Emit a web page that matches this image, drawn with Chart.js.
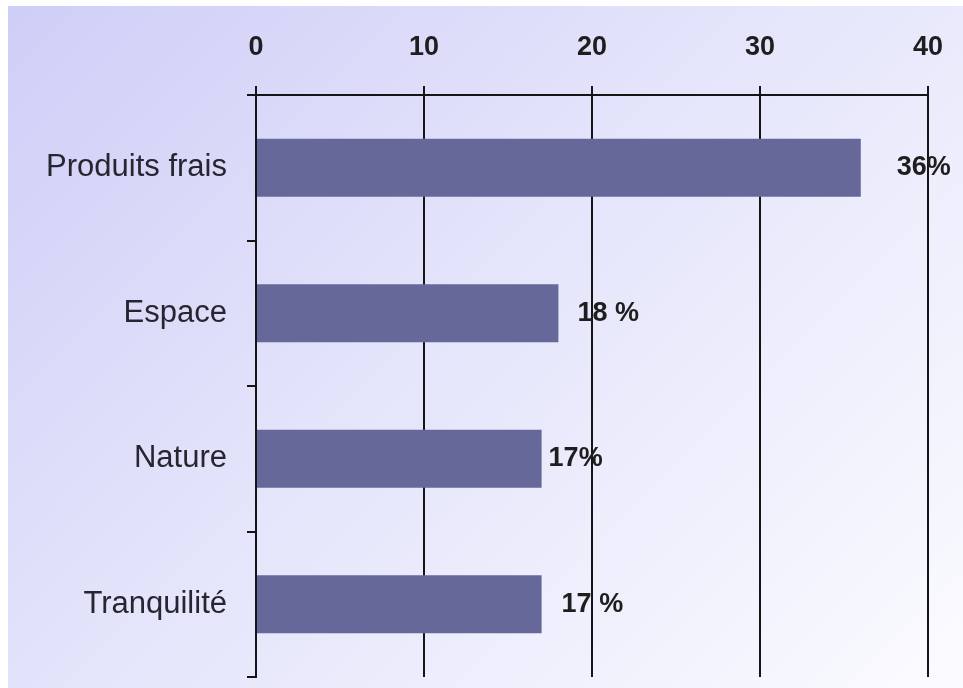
<!DOCTYPE html>
<html>
<head>
<meta charset="utf-8">
<script src="https://cdn.jsdelivr.net/npm/chart.js@4/dist/chart.umd.min.js"></script>
<style>
  html, body { margin: 0; padding: 0; background: #fff; }
  #wrap { position: relative; width: 963px; height: 688px; overflow: hidden; background: #fff; }
  #bg { position: absolute; left: 8px; top: 6px; right: 0; bottom: 0;
        background: linear-gradient(135deg, #cfcef7 0%, #e4e4fb 45%, #fbfbff 100%); }
  #c { position: absolute; left: 0; top: 0; }
</style>
</head>
<body>
<div id="wrap">
  <div id="bg"></div>
  <canvas id="c" width="963" height="688"></canvas>
</div>
<script>
/* categories and values */
const categories = ['Produits frais', 'Espace', 'Nature', 'Tranquilité'];
const values = [36, 18, 17, 17];
const valueLabels = ['36%', '18 %', '17%', '17 %'];
const xTicks = [0, 10, 20, 30, 40];

/* gap between bar end and its label, as in the original slide */
const labelGap = [36, 19, 7, 20];

const INK = '#151515';
const FONT = '"Liberation Sans", Arial, sans-serif';

const valueText = {
  id: 'valueText',
  afterDatasetsDraw(chart) {
    const ctx = chart.ctx;
    const meta = chart.getDatasetMeta(0);
    ctx.save();
    ctx.font = 'bold 27px ' + FONT;
    ctx.fillStyle = '#1e1e1e';
    ctx.textAlign = 'left';
    ctx.textBaseline = 'middle';
    meta.data.forEach((bar, i) => {
      ctx.fillText(valueLabels[i], bar.x + labelGap[i], bar.y);
    });
    ctx.restore();
  }
};

new Chart(document.getElementById('c'), {
  type: 'bar',
  data: {
    labels: categories,
    datasets: [{
      data: values,
      backgroundColor: '#67689a',
      borderWidth: 0,
      barPercentage: 0.4,
      categoryPercentage: 1
    }]
  },
  options: {
    indexAxis: 'y',
    responsive: false,
    animation: false,
    layout: { padding: { left: 0, right: 35, top: 0, bottom: 11 } },
    plugins: { legend: { display: false }, tooltip: { enabled: false } },
    scales: {
      x: {
        position: 'top',
        min: xTicks[0],
        max: xTicks[xTicks.length - 1],
        // fixed band above the plot; label overhang must not shrink the plot
        afterFit: s => { s.height = 95; s.paddingLeft = 0; s.paddingRight = 0; },
        afterBuildTicks: s => { s.ticks = xTicks.map(v => ({ value: v })); },
        ticks: { font: { family: FONT, size: 27, weight: 'bold' }, color: '#1e1e1e', padding: 22 },
        grid: { color: INK, lineWidth: 2, tickLength: 9, drawOnChartArea: true },
        border: { display: true, color: INK, width: 2 }
      },
      y: {
        afterFit: s => { s.width = 256; s.paddingTop = 0; s.paddingBottom = 0; },
        ticks: { font: { family: FONT, size: 31 }, color: '#262630', padding: 20 },
        grid: { offset: true, drawOnChartArea: false, color: INK, lineWidth: 2, tickLength: 9 },
        border: { display: true, color: INK, width: 2 }
      }
    }
  },
  plugins: [valueText]
});
</script>
</body>
</html>
